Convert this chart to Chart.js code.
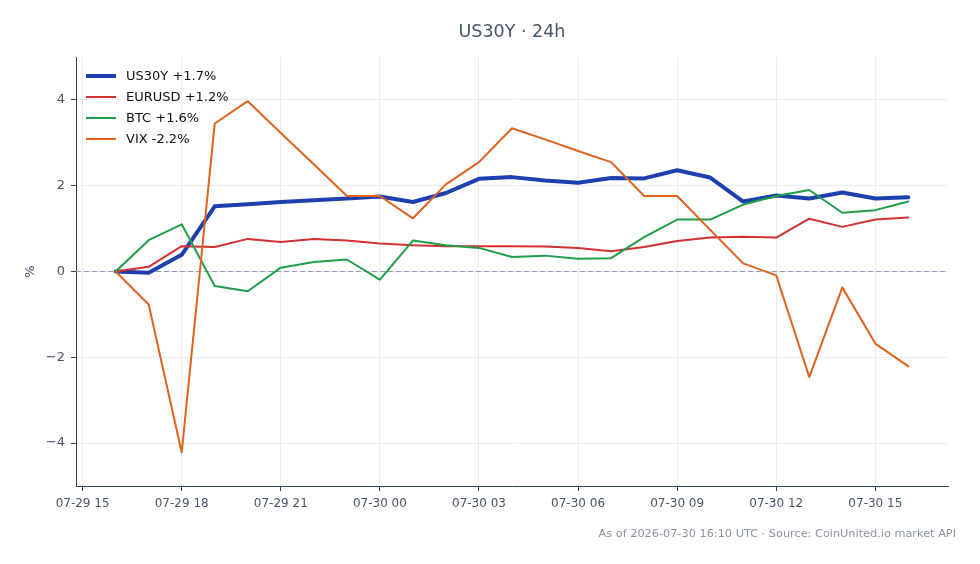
<!DOCTYPE html>
<html><head><meta charset="utf-8">
<script src="https://cdn.jsdelivr.net/npm/chart.js@4/dist/chart.umd.min.js"></script>
<style>html,body{margin:0;padding:0;background:#fff}#wrap{width:980px;height:564px;position:relative}</style>
</head><body><div id="wrap"><canvas id="c" width="980" height="564"></canvas></div>
<script>
// hours since 07-29 15:00 UTC
const hours = [1,2,3,4,5,6,7,8,9,10,11,12,13,14,15,16,17,18,19,20,21,22,23,24,25];
const xTickHours = [0,3,6,9,12,15,18,21,24];
const xTickLabels = ['07-29 15','07-29 18','07-29 21','07-30 00','07-30 03','07-30 06','07-30 09','07-30 12','07-30 15'];
const yTicks = [-4,-2,0,2,4];
const seriesNames = ['US30Y +1.7%','EURUSD +1.2%','BTC +1.6%','VIX -2.2%'];
const us30y  = [0,-0.03,0.39,1.52,1.57,1.62,1.66,1.70,1.75,1.62,1.83,2.16,2.20,2.12,2.07,2.18,2.17,2.36,2.19,1.63,1.77,1.70,1.84,1.70,1.73];
const eurusd = [0,0.11,0.59,0.57,0.76,0.69,0.76,0.72,0.65,0.61,0.59,0.59,0.59,0.58,0.55,0.47,0.57,0.71,0.79,0.81,0.79,1.23,1.04,1.21,1.26];
const btc    = [0,0.73,1.10,-0.34,-0.46,0.09,0.22,0.28,-0.19,0.72,0.61,0.55,0.34,0.37,0.30,0.31,0.80,1.21,1.21,1.56,1.76,1.90,1.37,1.43,1.63];
const vix    = [0,-0.77,-4.22,3.45,3.97,3.23,2.50,1.76,1.76,1.24,2.03,2.55,3.34,3.08,2.81,2.55,1.76,1.76,0.97,0.19,-0.09,-2.46,-0.37,-1.68,-2.21];

const TEXT = '#475569', AXIS = '#334155', GRID = '#e9edf2';
const toXY = arr => arr.map((v,i)=>({x:hours[i], y:v}));

const overlay = {
  id:'overlay',
  beforeDatasetsDraw(chart){
    const {ctx, chartArea:a, scales:{y}} = chart;
    const py = y.getPixelForValue(0);
    ctx.save();
    ctx.strokeStyle = '#8e9bb4'; ctx.lineWidth = 1; ctx.setLineDash([5,3]);
    ctx.beginPath(); ctx.moveTo(a.left, py); ctx.lineTo(a.right, py); ctx.stroke();
    ctx.restore();
  },
  afterDraw(chart){
    const {ctx, chartArea:a} = chart;
    ctx.save();
    ctx.fillStyle = TEXT; ctx.textAlign='center'; ctx.textBaseline='middle';
    ctx.font = '17.5px "DejaVu Sans"';
    ctx.fillText('US30Y · 24h', (a.left+a.right)/2, 32);
    ctx.save(); ctx.translate(31, (a.top+a.bottom)/2); ctx.rotate(-Math.PI/2);
    ctx.font = '13px "DejaVu Sans"'; ctx.fillText('%',0,0); ctx.restore();
    ctx.font = '11.3px "DejaVu Sans"'; ctx.fillStyle='#8b93a0'; ctx.textAlign='right';
    ctx.fillText('As of 2026-07-30 16:10 UTC · Source: CoinUnited.io market API', 956, 534);
    // legend
    ctx.textAlign='left'; ctx.font='13px "DejaVu Sans"'; ctx.fillStyle='#111';
    chart.data.datasets.forEach((d,i)=>{
      const yy = 76 + i*21;
      ctx.strokeStyle = d.borderColor; ctx.lineWidth = d.borderWidth; ctx.setLineDash([]);
      ctx.beginPath(); ctx.moveTo(86,yy); ctx.lineTo(116,yy); ctx.stroke();
      ctx.fillStyle = '#111'; ctx.fillText(d.label, 126, yy+0.5);
    });
    ctx.restore();
  }
};

new Chart(document.getElementById('c'), {
  type:'line',
  data:{ datasets:[
    {label:seriesNames[0], data:toXY(us30y), borderColor:'#1e40af', borderWidth:4, order:4},
    {label:seriesNames[1], data:toXY(eurusd), borderColor:'#d33030', borderWidth:2, order:3},
    {label:seriesNames[2], data:toXY(btc), borderColor:'#1f9d48', borderWidth:2, order:2},
    {label:seriesNames[3], data:toXY(vix), borderColor:'#e0621c', borderWidth:2, order:1}
  ]},
  options:{
    responsive:false, animation:false, devicePixelRatio:1,
    layout:{padding:{top:57,right:32,left:0,bottom:0}},
    elements:{point:{radius:0}, line:{tension:0, borderJoinStyle:'round', borderCapStyle:'round'}},
    plugins:{legend:{display:false}, title:{display:false}, tooltip:{enabled:false}},
    scales:{
      x:{type:'linear', min:-0.2, max:26.2,
        afterFit(s){ s.height = 78; },
        afterBuildTicks(s){ s.ticks = xTickHours.map(v=>({value:v})); },
        ticks:{color:TEXT, font:{family:'DejaVu Sans', size:12}, padding:6, maxRotation:0, autoSkip:false,
          callback(v){ const i = xTickHours.indexOf(v); return i>=0 ? xTickLabels[i] : ''; }},
        grid:{color:GRID, tickColor:AXIS, tickLength:5, drawTicks:true},
        border:{color:AXIS, width:1}
      },
      y:{type:'linear', min:-5, max:5,
        afterFit(s){ s.width = 76; },
        afterBuildTicks(s){ s.ticks = yTicks.map(v=>({value:v})); },
        ticks:{color:TEXT, font:{family:'DejaVu Sans', size:13}, padding:6,
          callback(v){ return v<0 ? '\u2212'+Math.abs(v) : String(v); }},
        grid:{color:GRID, tickColor:AXIS, tickLength:5, drawTicks:true},
        border:{color:AXIS, width:1}
      }
    }
  },
  plugins:[overlay]
});
</script></body></html>
